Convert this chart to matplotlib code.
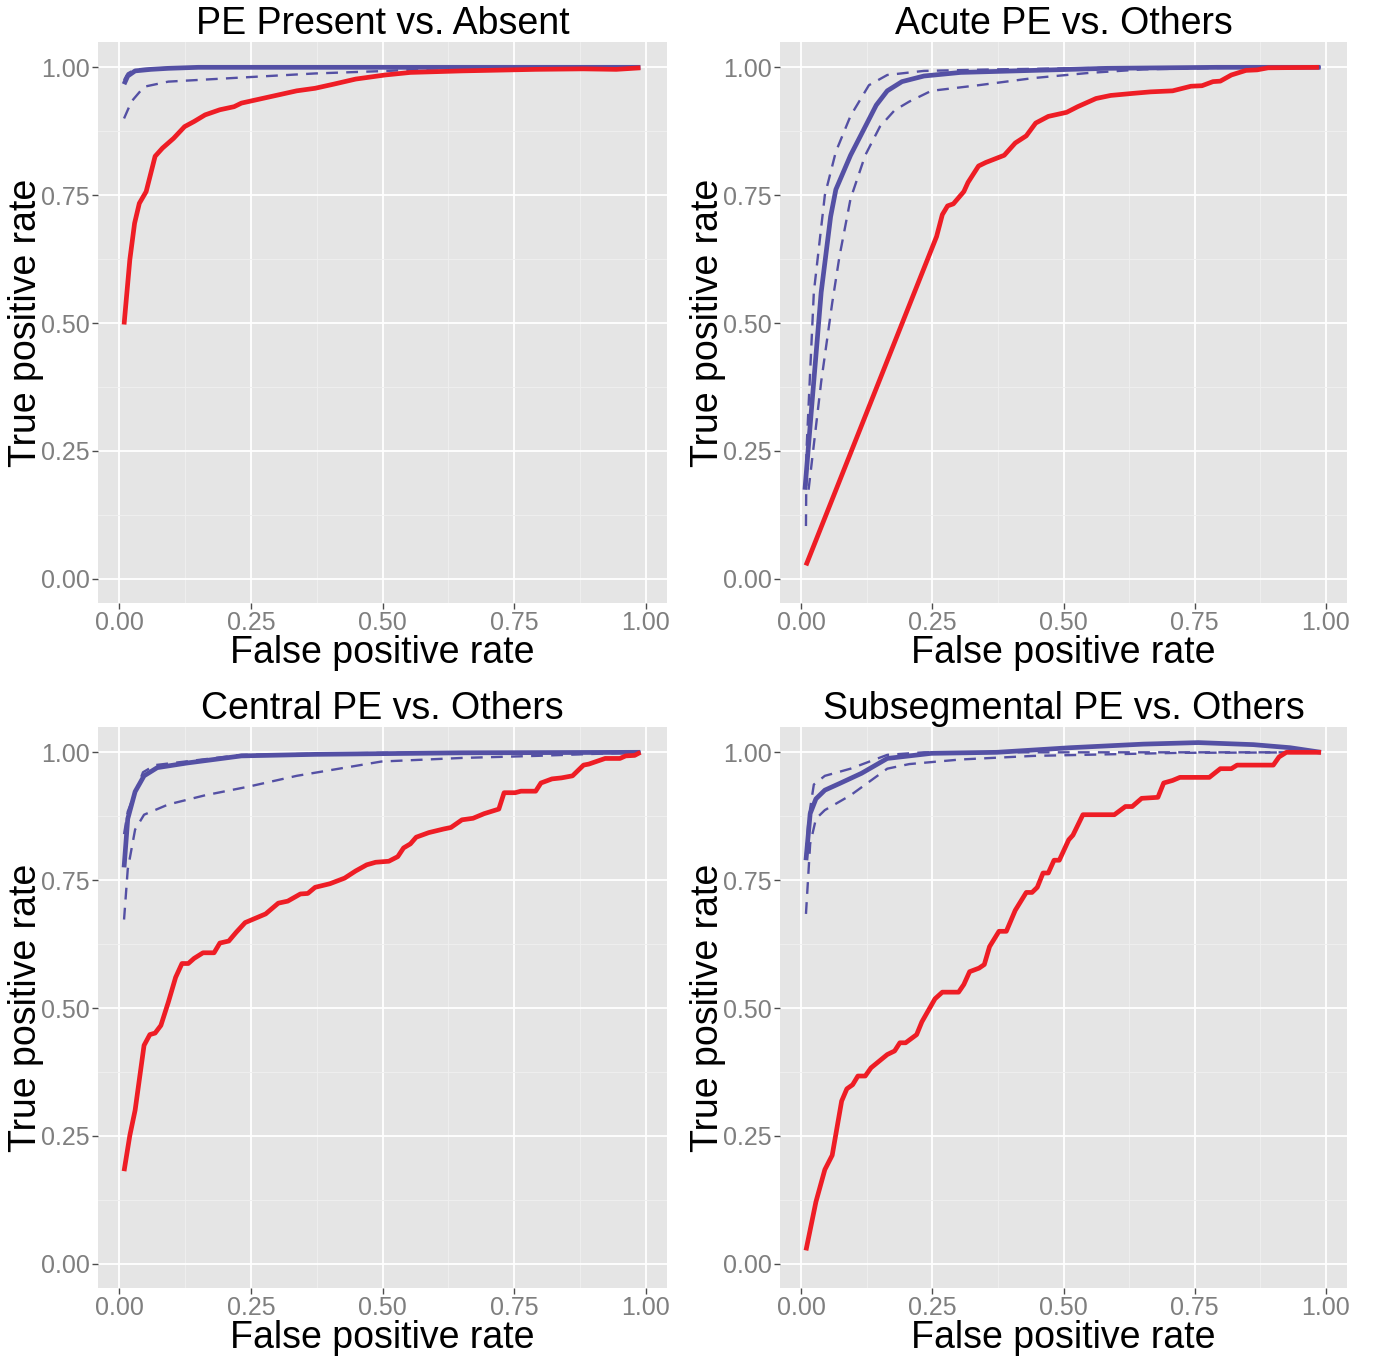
import matplotlib
matplotlib.use("Agg")
import matplotlib.pyplot as plt
from matplotlib.ticker import MultipleLocator

plt.rcParams['font.family'] = ['Liberation Sans', 'DejaVu Sans']

titles = ["PE Present vs. Absent", "Acute PE vs. Others",
          "Central PE vs. Others", "Subsegmental PE vs. Others"]

# ---- Panel 1: PE Present vs. Absent ----
p1_red_x = [0.009, 0.02, 0.029, 0.038, 0.051, 0.068, 0.082, 0.103, 0.124, 0.142, 0.163, 0.191,
            0.218, 0.232, 0.267, 0.302, 0.337, 0.372, 0.407, 0.449, 0.505, 0.553, 0.651, 0.791,
            0.881, 0.944, 0.99]
p1_red_y = [0.497, 0.624, 0.695, 0.734, 0.757, 0.826, 0.842, 0.861, 0.884, 0.894, 0.907, 0.917,
            0.923, 0.930, 0.938, 0.946, 0.954, 0.959, 0.967, 0.977, 0.985, 0.990, 0.993, 0.996,
            0.997, 0.996, 0.999]
p1_blue_x = [0.009, 0.016, 0.03, 0.06, 0.093, 0.15, 0.3, 0.6, 0.99]
p1_blue_y = [0.967, 0.983, 0.993, 0.996, 0.998, 1.0, 1.0, 1.0, 1.0]
p1_up_x = [0.009, 0.016, 0.03, 0.093, 0.2, 0.99]
p1_up_y = [0.975, 0.988, 0.996, 0.999, 1.0, 1.0]
p1_lo_x = [0.009, 0.023, 0.047, 0.093, 0.232, 0.372, 0.511, 0.581, 0.65, 0.99]
p1_lo_y = [0.900, 0.933, 0.962, 0.972, 0.980, 0.988, 0.993, 0.997, 1.0, 1.0]

# ---- Panel 2: Acute PE vs. Others ----
p2_red_x = [0.009, 0.258, 0.269, 0.279, 0.29, 0.31, 0.318, 0.338, 0.352, 0.387, 0.408, 0.429,
            0.447, 0.471, 0.506, 0.527, 0.562, 0.59, 0.632, 0.666, 0.708, 0.743, 0.764, 0.785,
            0.799, 0.82, 0.848, 0.869, 0.89, 0.987]
p2_red_y = [0.026, 0.669, 0.712, 0.729, 0.733, 0.757, 0.775, 0.807, 0.814, 0.828, 0.852, 0.866,
            0.891, 0.904, 0.912, 0.923, 0.939, 0.945, 0.949, 0.952, 0.954, 0.963, 0.964, 0.972,
            0.973, 0.985, 0.994, 0.995, 0.999, 1.0]
p2_blue_x = [0.007, 0.021, 0.038, 0.056, 0.066, 0.094, 0.122, 0.143, 0.164, 0.192, 0.234, 0.304,
             0.443, 0.583, 0.792, 0.99]
p2_blue_y = [0.174, 0.350, 0.560, 0.708, 0.761, 0.828, 0.884, 0.926, 0.954, 0.972, 0.983, 0.990,
             0.994, 0.998, 1.0, 1.0]
p2_up_x = [0.009, 0.010, 0.024, 0.045, 0.066, 0.094, 0.129, 0.164, 0.234, 0.373, 0.583, 0.99]
p2_up_y = [0.103, 0.250, 0.560, 0.750, 0.835, 0.905, 0.965, 0.985, 0.993, 0.996, 0.999, 1.0]
p2_lo_x = [0.014, 0.038, 0.059, 0.073, 0.094, 0.122, 0.15, 0.178, 0.206, 0.248, 0.338, 0.443,
           0.548, 0.652, 0.862, 0.99]
p2_lo_y = [0.174, 0.385, 0.539, 0.631, 0.743, 0.828, 0.884, 0.916, 0.933, 0.954, 0.965, 0.979,
           0.989, 0.996, 1.0, 1.0]

# ---- Panel 3: Central PE vs. Others ----
p3_red_x = [0.009, 0.02, 0.03, 0.047, 0.058, 0.068, 0.079, 0.093, 0.107, 0.119, 0.131, 0.142,
            0.159, 0.18, 0.191, 0.208, 0.222, 0.239, 0.278, 0.302, 0.32, 0.344, 0.358, 0.372,
            0.4, 0.428, 0.449, 0.47, 0.487, 0.512, 0.529, 0.54, 0.553, 0.564, 0.588, 0.616,
            0.63, 0.651, 0.672, 0.693, 0.721, 0.731, 0.752, 0.763, 0.791, 0.801, 0.822, 0.84,
            0.861, 0.882, 0.892, 0.923, 0.951, 0.962, 0.979, 0.99]
p3_red_y = [0.181, 0.251, 0.300, 0.427, 0.448, 0.451, 0.466, 0.511, 0.560, 0.587, 0.587, 0.597,
            0.608, 0.608, 0.627, 0.631, 0.648, 0.667, 0.684, 0.705, 0.709, 0.723, 0.724, 0.736,
            0.743, 0.754, 0.768, 0.780, 0.785, 0.787, 0.796, 0.813, 0.821, 0.834, 0.843, 0.850,
            0.853, 0.868, 0.871, 0.880, 0.889, 0.921, 0.921, 0.924, 0.924, 0.940, 0.948, 0.950,
            0.954, 0.975, 0.977, 0.988, 0.988, 0.993, 0.994, 1.0]
p3_blue_x = [0.009, 0.016, 0.03, 0.047, 0.072, 0.128, 0.232, 0.372, 0.651, 0.99]
p3_blue_y = [0.775, 0.870, 0.923, 0.954, 0.970, 0.979, 0.993, 0.996, 0.999, 1.0]
p3_up_x = [0.009, 0.016, 0.045, 0.068, 0.232, 0.5, 0.99]
p3_up_y = [0.840, 0.884, 0.961, 0.975, 0.995, 0.999, 1.0]
p3_lo_x = [0.009, 0.016, 0.03, 0.047, 0.093, 0.163, 0.246, 0.337, 0.498, 0.651, 0.791, 0.99]
p3_lo_y = [0.673, 0.771, 0.849, 0.878, 0.898, 0.916, 0.933, 0.954, 0.982, 0.989, 0.993, 1.0]

# ---- Panel 4: Subsegmental PE vs. Others ----
p4_red_x = [0.009, 0.028, 0.045, 0.059, 0.077, 0.087, 0.098, 0.108, 0.122, 0.133, 0.164, 0.178,
            0.188, 0.199, 0.22, 0.23, 0.255, 0.269, 0.3, 0.31, 0.321, 0.339, 0.349, 0.359,
            0.377, 0.391, 0.408, 0.429, 0.44, 0.45, 0.461, 0.471, 0.482, 0.492, 0.51, 0.518,
            0.537, 0.597, 0.618, 0.631, 0.649, 0.68, 0.691, 0.708, 0.722, 0.778, 0.799, 0.82,
            0.831, 0.9, 0.911, 0.925, 0.991]
p4_red_y = [0.026, 0.121, 0.184, 0.212, 0.318, 0.342, 0.350, 0.367, 0.367, 0.383, 0.409, 0.416,
            0.432, 0.432, 0.448, 0.473, 0.518, 0.531, 0.531, 0.546, 0.571, 0.578, 0.585, 0.620,
            0.650, 0.650, 0.691, 0.726, 0.726, 0.736, 0.764, 0.764, 0.789, 0.789, 0.829, 0.838,
            0.878, 0.878, 0.894, 0.894, 0.910, 0.912, 0.940, 0.945, 0.951, 0.951, 0.968, 0.968,
            0.975, 0.975, 0.991, 1.0, 1.0]
p4_blue_x = [0.009, 0.017, 0.028, 0.045, 0.073, 0.115, 0.164, 0.206, 0.248, 0.373, 0.513, 0.652,
             0.757, 0.862, 0.932, 0.991]
p4_blue_y = [0.789, 0.880, 0.909, 0.926, 0.939, 0.959, 0.988, 0.993, 0.998, 1.0, 1.009, 1.016,
             1.019, 1.015, 1.009, 1.0]
p4_up_x = [0.009, 0.014, 0.024, 0.045, 0.094, 0.164, 0.234, 0.991]
p4_up_y = [0.800, 0.870, 0.937, 0.954, 0.968, 0.995, 1.0, 1.0]
p4_lo_x = [0.009, 0.017, 0.028, 0.045, 0.094, 0.164, 0.206, 0.304, 0.443, 0.583, 0.722, 0.991]
p4_lo_y = [0.684, 0.821, 0.870, 0.887, 0.916, 0.968, 0.977, 0.986, 0.993, 0.996, 0.999, 1.0]

panels = [
    (p1_red_x, p1_red_y, p1_blue_x, p1_blue_y, p1_up_x, p1_up_y, p1_lo_x, p1_lo_y),
    (p2_red_x, p2_red_y, p2_blue_x, p2_blue_y, p2_up_x, p2_up_y, p2_lo_x, p2_lo_y),
    (p3_red_x, p3_red_y, p3_blue_x, p3_blue_y, p3_up_x, p3_up_y, p3_lo_x, p3_lo_y),
    (p4_red_x, p4_red_y, p4_blue_x, p4_blue_y, p4_up_x, p4_up_y, p4_lo_x, p4_lo_y),
]

ticks = [0.0, 0.25, 0.5, 0.75, 1.0]
tick_labels = ["0.00", "0.25", "0.50", "0.75", "1.00"]

RED = "#EE1D25"
BLUE = "#5450A4"
W, H = 1373, 1357
fig = plt.figure(figsize=(W / 100, H / 100), dpi=100)

rects = [(98, 42, 667, 603), (780, 42, 1347, 603), (98, 727, 667, 1288), (780, 727, 1347, 1288)]

for (l, t, r, b), title, data in zip(rects, titles, panels):
    ax = fig.add_axes([l / W, 1 - b / H, (r - l) / W, (b - t) / H])
    ax.set_facecolor("#E5E5E5")
    for s in ax.spines.values():
        s.set_visible(False)
    ax.set_xlim(-0.0405, 1.0405)
    ax.set_ylim(-0.0475, 1.0495)
    ax.set_xticks(ticks)
    ax.set_xticklabels(tick_labels)
    ax.set_yticks(ticks)
    ax.set_yticklabels(tick_labels)
    ax.xaxis.set_minor_locator(MultipleLocator(0.125))
    ax.yaxis.set_minor_locator(MultipleLocator(0.125))
    ax.grid(which="major", color="white", linewidth=1.3)
    ax.grid(which="minor", color="#F0F0F0", linewidth=0.6)
    ax.set_axisbelow(True)
    ax.tick_params(which="major", length=4, width=1, color="#4D4D4D",
                   labelsize=18, labelcolor="#7F7F7F", pad=2)
    ax.tick_params(which="minor", length=0)
    rx, ry, bx, by, ux, uy, lx, ly = data
    ax.plot(ux, uy, color=BLUE, lw=1.7, ls=(0, (5, 3.5)))
    ax.plot(lx, ly, color=BLUE, lw=1.7, ls=(0, (5, 3.5)))
    ax.plot(bx, by, color=BLUE, lw=3.4, solid_capstyle="butt")
    ax.plot(rx, ry, color=RED, lw=3.4, solid_capstyle="butt")
    ax.set_title(title, fontsize=27, pad=3)
    ax.set_xlabel("False positive rate", fontsize=27, labelpad=0)
    ax.set_ylabel("True positive rate", fontsize=27)
    ax.yaxis.set_label_coords(-0.095, 0.5)

fig.savefig("out.png", dpi=100)
